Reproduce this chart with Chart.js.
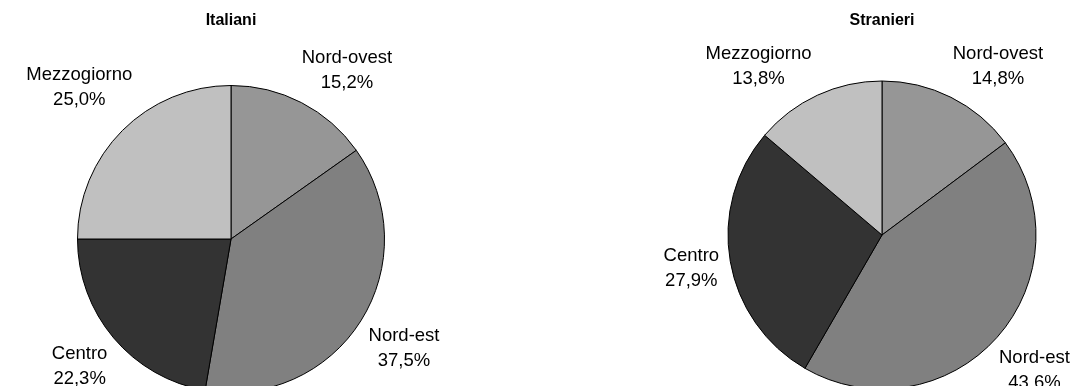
<!DOCTYPE html>
<html>
<head>
<meta charset="utf-8">
<script src="https://cdn.jsdelivr.net/npm/chart.js@4"></script>
<style>
  body { margin: 0; background: #fff; overflow: hidden; width: 1079px; height: 386px; position: relative; }
  canvas { position: absolute; top: 0; }
  #left { left: 0; }
  #right { left: 540px; }
</style>
</head>
<body>
<canvas id="left" width="540" height="420"></canvas>
<canvas id="right" width="539" height="420"></canvas>
<script>
// data
const regions = ['Nord-ovest', 'Nord-est', 'Centro', 'Mezzogiorno'];
const italiani = [15.2, 37.5, 22.3, 25.0];
const stranieri = [14.8, 43.6, 27.9, 13.8];
const titles = ['Italiani', 'Stranieri'];

// look
const sliceColors = ['#969696', '#808080', '#333333', '#c0c0c0'];
const FONT = '"Liberation Sans", Arial, sans-serif';
const LABEL_SIZE = 18.5;
const LINE_GAP = 25;
const BOX_H = 44;
const LABEL_GAP = 9;
const TOP_ROOM = 37; // labels may not rise more than this above the pie top

function fmt(v) {
    return v.toFixed(1).replace('.', ',') + '%';
}

function nearestDist(cx, cy, bx, by, w) {
    const nx = Math.max(bx - w / 2, Math.min(cx, bx + w / 2));
    const ny = Math.max(by - BOX_H / 2, Math.min(cy, by + BOX_H / 2));
    return Math.hypot(nx - cx, ny - cy);
}

// outside labels: box pushed out along mid angle until its nearest point clears the arc
const outsideLabels = {
    id: 'outsideLabels',
    afterDatasetsDraw(chart) {
        const ctx = chart.ctx;
        const meta = chart.getDatasetMeta(0);
        const values = chart.data.datasets[0].data;
        ctx.save();
        ctx.font = LABEL_SIZE + 'px ' + FONT;
        ctx.fillStyle = '#000';
        ctx.textAlign = 'center';
        ctx.textBaseline = 'middle';
        meta.data.forEach((arc, i) => {
            const p = arc.getProps(['x', 'y', 'startAngle', 'endAngle', 'outerRadius'], true);
            const mid = (p.startAngle + p.endAngle) / 2;
            const dx = Math.cos(mid), dy = Math.sin(mid);
            const lines = [chart.data.labels[i], fmt(values[i])];
            const w = Math.max(...lines.map(l => ctx.measureText(l).width));
            const target = p.outerRadius + LABEL_GAP;
            const minTop = p.y - p.outerRadius - TOP_ROOM;
            let t = 0, bx = p.x, by = p.y;
            while (t < 600) {
                bx = p.x + t * dx;
                by = p.y + t * dy;
                if (nearestDist(p.x, p.y, bx, by, w) >= target) break;
                t += 0.5;
            }
            if (by - BOX_H / 2 < minTop) {
                // too high: hold at the top limit and slide sideways instead
                by = minTop + BOX_H / 2;
                const sx = dx < 0 ? -1 : 1;
                let s = 0;
                while (s < 600) {
                    bx = p.x + sx * s;
                    if (nearestDist(p.x, p.y, bx, by, w) >= target) break;
                    s += 0.5;
                }
            }
            ctx.fillText(lines[0], bx, by - LINE_GAP / 2);
            ctx.fillText(lines[1], bx, by + LINE_GAP / 2);
        });
        ctx.restore();
    }
};

function makePie(id, title, values, radius, pad, titleBottom) {
    return new Chart(document.getElementById(id), {
        type: 'pie',
        data: {
            labels: regions,
            datasets: [{
                data: values,
                backgroundColor: sliceColors,
                borderColor: '#000',
                borderWidth: 1,
                radius: radius
            }]
        },
        options: {
            responsive: false,
            animation: false,
            layout: { padding: pad },
            plugins: {
                legend: { display: false },
                tooltip: { enabled: false },
                title: {
                    display: true,
                    text: title,
                    color: '#000',
                    font: { family: FONT, size: 16, weight: 'bold' },
                    padding: { top: 11, bottom: titleBottom }
                }
            }
        },
        plugins: [outsideLabels]
    });
}

makePie('left', titles[0], italiani, 153.5, { left: 0, right: 78, top: 0, bottom: 0 }, 27.8);
makePie('right', titles[1], stranieri, 154, { left: 145, right: 0, top: 0, bottom: 0 }, 19.8);
</script>
</body>
</html>
